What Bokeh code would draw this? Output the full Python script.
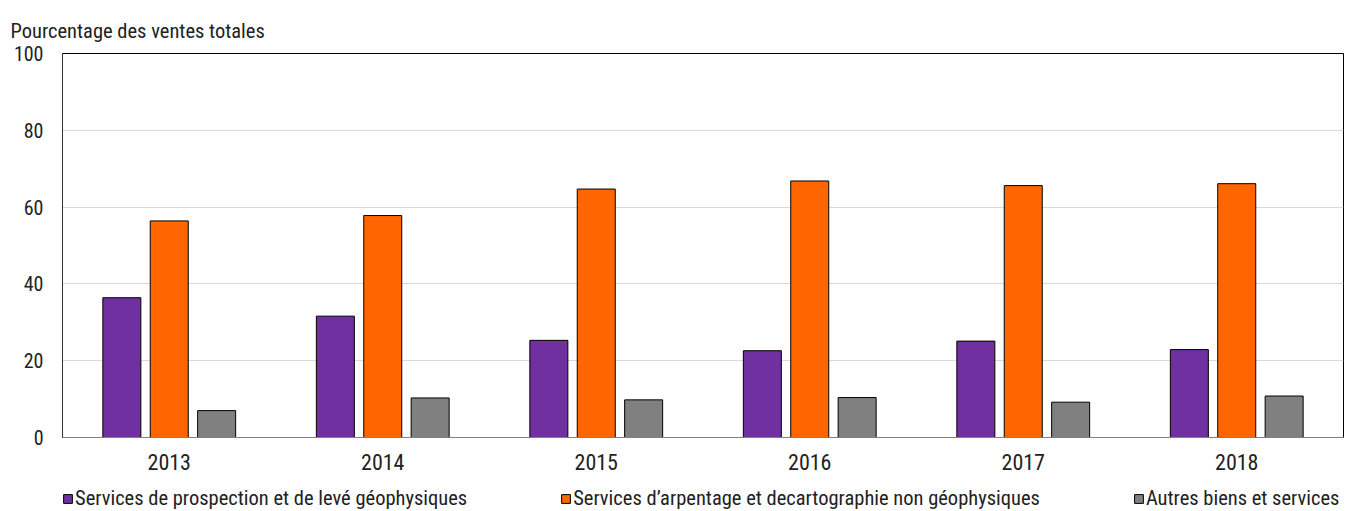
from bokeh.plotting import figure
from bokeh.models import ColumnDataSource, FactorRange, Range1d, Legend, LegendItem, Title, FixedTicker
from bokeh.layouts import column
from bokeh.transform import dodge
from bokeh.embed import file_html
from bokeh.resources import INLINE

years = ["2013", "2014", "2015", "2016", "2017", "2018"]
prospection = [36.4, 31.6, 25.3, 22.6, 25.1, 22.9]
arpentage = [56.4, 57.8, 64.7, 66.8, 65.6, 66.1]
autres = [7.0, 10.3, 9.8, 10.4, 9.2, 10.8]
series_names = [
    "Services de prospection et de levé géophysiques",
    "Services d\u2019arpentage et decartographie non géophysiques",
    "Autres biens et services",
]
colors = ["#7030a0", "#ff6600", "#808080"]
y_ticks = [0, 20, 40, 60, 80, 100]

FONT = "Roboto Condensed, Liberation Sans Narrow, sans-serif"
TXT = "#222222"

src = ColumnDataSource(dict(years=years, a=prospection, b=arpentage, c=autres))
keys = ["a", "b", "c"]
offsets = [-0.222, 0.0, 0.222]

p = figure(x_range=FactorRange(*years), y_range=Range1d(0, 100),
           width=1354, height=480, output_backend="svg", toolbar_location=None,
           min_border_left=62, min_border_right=11, min_border_bottom=43, min_border_top=53)

for k, off, col in zip(keys, offsets, colors):
    p.vbar(x=dodge("years", off, range=p.x_range), top=k, width=0.178, source=src,
           fill_color=col, line_color="black", line_width=1)

p.title = Title(text="Pourcentage des ventes totales", align="left", offset=-52,
                text_font=FONT, text_font_size="20.5px", text_font_style="normal",
                text_color=TXT, standoff=21)

p.outline_line_color = "black"
p.outline_line_width = 1

p.xgrid.grid_line_color = None
p.ygrid.grid_line_color = "#d9d9d9"
p.ygrid.grid_line_width = 1
p.yaxis.ticker = FixedTicker(ticks=y_ticks)
p.yaxis.minor_tick_line_color = None
p.yaxis.major_tick_line_color = None
p.yaxis.major_tick_out = 0
p.yaxis.axis_line_color = "#333333"
p.yaxis.major_label_standoff = 19
p.yaxis.major_label_text_font = FONT
p.yaxis.major_label_text_font_size = "20px"
p.yaxis.major_label_text_color = TXT

p.xaxis.major_tick_line_color = None
p.xaxis.minor_tick_line_color = None
p.xaxis.major_tick_out = 0
p.xaxis.axis_line_color = "#808080"
p.xaxis.major_label_standoff = 16
p.xaxis.major_label_text_font = FONT
p.xaxis.major_label_text_font_size = "22px"
p.xaxis.major_label_text_color = TXT

# legend strip below the chart (its bars lie outside its y range, only the legend shows)
p2 = figure(width=1354, height=31, output_backend="svg", toolbar_location=None,
            min_border_left=62, min_border_right=11, min_border_top=0, min_border_bottom=0,
            x_range=FactorRange(*years), y_range=Range1d(1000, 1001))
p2.axis.visible = False
p2.grid.visible = False
p2.outline_line_color = None
leg_renderers = [p2.vbar(x=dodge("years", off, range=p2.x_range), top=k, width=0.178, source=src,
                         fill_color=col, line_color="black", line_width=1)
                 for k, off, col in zip(keys, offsets, colors)]
legend = Legend(items=[LegendItem(label=n, renderers=[r]) for n, r in zip(series_names, leg_renderers)],
                orientation="horizontal", location=(0, 1), border_line_color=None,
                background_fill_alpha=0, label_text_font=FONT, label_text_font_size="20.5px",
                label_text_color=TXT, glyph_width=11, glyph_height=11, label_standoff=2,
                spacing=93, padding=0, margin=0, label_height=22)
p2.add_layout(legend, "center")

open("out.html", "w").write(file_html(column(p, p2, spacing=0), INLINE))
